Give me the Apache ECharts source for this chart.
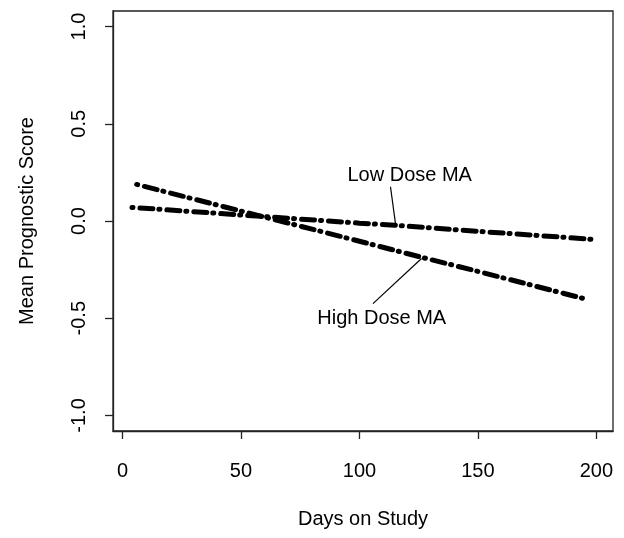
<!DOCTYPE html>
<html>
<head>
<meta charset="utf-8">
<script src="https://cdn.jsdelivr.net/npm/echarts@6/dist/echarts.min.js"></script>
<style>
  html, body { margin: 0; padding: 0; background: #fff; }
  #chart { width: 624px; height: 538px; }
</style>
</head>
<body>
<div id="chart"></div>
<script>
// values
const lowDays = [4, 50, 100, 115, 150, 198];
const lowScore = [0.07, 0.031, -0.011, -0.022, -0.053, -0.094];
const highDays = [6, 50, 100, 126, 150, 195];
const highScore = [0.188, 0.051, -0.104, -0.186, -0.259, -0.40];
const xTicks = [0, 50, 100, 150, 200];
const yTicks = [-1.0, -0.5, 0.0, 0.5, 1.0];

const font = 'Liberation Sans, Arial, sans-serif';

function pairs(xs, ys) {
  return xs.map((x, i) => [x, ys[i]]);
}

const dotDash = {
  color: '#000',
  width: 5,
  type: [1, 7, 13, 6],
  cap: 'round'
};

let chart = echarts.init(document.getElementById('chart'));
let option = {
  animation: false,
  grid: {
    left: 113, top: 11, right: 11, bottom: 107,
    show: true, borderColor: '#222', borderWidth: 1.3
  },
  xAxis: {
    type: 'value',
    min: -4, max: 207,
    name: 'Days on Study',
    nameLocation: 'middle',
    nameGap: 78,
    nameTextStyle: { fontFamily: font, fontSize: 20, color: '#000' },
    axisLine: { show: true, onZero: false, lineStyle: { color: '#222', width: 1.3 } },
    axisTick: { show: true, length: 8, customValues: xTicks, lineStyle: { color: '#222', width: 1.3 } },
    axisLabel: { customValues: xTicks, margin: 30, fontFamily: font, fontSize: 20, color: '#000' },
    splitLine: { show: false }
  },
  yAxis: {
    type: 'value',
    min: -1.08, max: 1.08,
    name: 'Mean Prognostic Score',
    nameLocation: 'middle',
    nameGap: 76,
    nameTextStyle: { fontFamily: font, fontSize: 20, color: '#000' },
    axisLine: { show: true, onZero: false, lineStyle: { color: '#222', width: 1.3 } },
    axisTick: { show: true, length: 8, customValues: yTicks, lineStyle: { color: '#222', width: 1.3 } },
    axisLabel: {
      customValues: yTicks, rotate: 90, margin: 24,
      fontFamily: font, fontSize: 20, color: '#000',
      formatter: v => v.toFixed(1)
    },
    splitLine: { show: false }
  },
  series: [
    {
      name: 'Low Dose MA',
      type: 'line',
      data: pairs(lowDays, lowScore),
      showSymbol: false,
      lineStyle: dotDash,
      markLine: {
        silent: true, symbol: 'none',
        lineStyle: { color: '#000', width: 1.2, type: 'solid' },
        label: { show: false },
        data: [[{ coord: [113.1, 0.176] }, { coord: [115.3, -0.022] }]]
      },
      markPoint: {
        symbol: 'circle', symbolSize: 1,
        itemStyle: { color: 'rgba(0,0,0,0)' },
        label: { show: true, position: 'inside', color: '#000', fontFamily: font, fontSize: 20, formatter: 'Low Dose MA' },
        data: [{ coord: [121.2, 0.236] }]
      }
    },
    {
      name: 'High Dose MA',
      type: 'line',
      data: pairs(highDays, highScore),
      showSymbol: false,
      lineStyle: dotDash,
      markLine: {
        silent: true, symbol: 'none',
        lineStyle: { color: '#000', width: 1.2, type: 'solid' },
        label: { show: false },
        data: [[{ coord: [105.7, -0.425] }, { coord: [126.2, -0.193] }]]
      },
      markPoint: {
        symbol: 'circle', symbolSize: 1,
        itemStyle: { color: 'rgba(0,0,0,0)' },
        label: { show: true, position: 'inside', color: '#000', fontFamily: font, fontSize: 20, formatter: 'High Dose MA' },
        data: [{ coord: [109.4, -0.50] }]
      }
    }
  ]
};
chart.setOption(option);
</script>
</body>
</html>
